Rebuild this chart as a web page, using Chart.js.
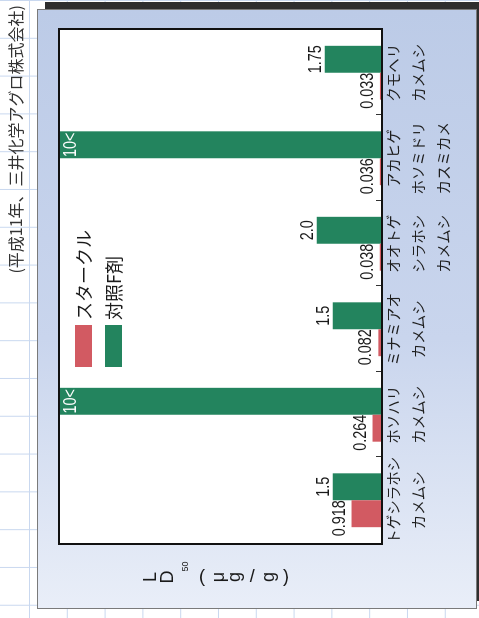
<!DOCTYPE html>
<html lang="ja">
<head>
<meta charset="utf-8">
<script src="https://cdn.jsdelivr.net/npm/chart.js@4.4.0/dist/chart.umd.min.js"></script>
<style>
    html, body { margin: 0; padding: 0; width: 479px; height: 618px; overflow: hidden; background: #ffffff; }
    .paper {
        position: absolute; left: 0; top: 0; width: 479px; height: 618px;
        background-image:
            linear-gradient(to right, #c9d8ef 1px, transparent 1px),
            linear-gradient(to bottom, #c9d8ef 1px, transparent 1px);
        background-size: 37.8px 37.8px, 37.8px 37.8px;
        background-position: 29px 0, 0 0;
    }
    .shadow { position: absolute; left: 45px; top: 2px; width: 440px; height: 599px; background: #2e2e2e; }
    .panel {
        position: absolute; left: 37px; top: 9px; width: 440px; height: 600px;
        box-sizing: border-box; border: 1px solid #7a7a7a;
        background: linear-gradient(to bottom, #bccbe7 0%, #c9d5ed 55%, #e9eef8 100%);
    }
    /* the chart is laid out upright and turned a quarter turn */
    .stage {
        position: absolute; left: 0; top: 0; width: 618px; height: 479px;
        transform-origin: 0 0; transform: translate(0, 618px) rotate(-90deg);
    }
    canvas { display: block; }
</style>
</head>
<body>
<div class="paper"></div>
<div class="shadow"></div>
<div class="panel"></div>
<div class="stage"><canvas id="ld50Chart" width="618" height="479"></canvas></div>

<script>
// LD50 of each stink bug species
const categories = [
    ['トゲシラホシ', 'カメムシ'],
    ['ホソハリ', 'カメムシ'],
    ['ミナミアオ', 'カメムシ'],
    ['オオトゲ', 'シラホシ', 'カメムシ'],
    ['アカヒゲ', 'ホソミドリ', 'カスミカメ'],
    ['クモヘリ', 'カメムシ']
];
const seriesNames = ['スタークル', '対照F剤'];
const starkleValues = [0.918, 0.264, 0.082, 0.038, 0.036, 0.033];
const controlValues = [1.5, 10, 1.5, 2.0, 10, 1.75];
const starkleLabels = ['0.918', '0.264', '0.082', '0.038', '0.036', '0.033'];
const controlLabels = ['1.5', '10<', '1.5', '2.0', '10<', '1.75'];
const yTitleGlyphs = ['L', 'D', '50', '(', 'μ', 'g', '/', 'g', ')'];
const sourceNote = '(平成11年、三井化学アグロ株式会社)';

const JP_FONT = '"Noto Sans CJK JP", "Noto Sans", sans-serif';
const NUM_FONT = '"Liberation Sans", Arial, sans-serif';

// condensed numerals: squeeze the text horizontally
function narrowText(ctx, text, x, y, squeeze) {
    ctx.save();
    ctx.translate(x, y);
    ctx.scale(squeeze, 1);
    ctx.fillText(text, 0, 0);
    ctx.restore();
}

const decorations = {
    id: 'decorations',
    beforeDatasetsDraw(chart) {
        const { ctx, chartArea: a } = chart;
        ctx.save();
        ctx.fillStyle = '#ffffff';
        ctx.fillRect(a.left, a.top, a.width, a.height);
        ctx.restore();
    },
    afterDatasetsDraw(chart) {
        const { ctx, chartArea: a } = chart;
        const xScale = chart.scales.x;
        ctx.save();

        // frame
        ctx.strokeStyle = '#111111';
        ctx.lineWidth = 2;
        ctx.strokeRect(a.left - 1, a.top - 1, a.width + 2, a.height + 2);

        // small marks between categories
        ctx.lineWidth = 1;
        ctx.strokeStyle = '#333333';
        for (let i = 0; i < categories.length - 1; i++) {
            const x = Math.round((xScale.getPixelForTick(i) + xScale.getPixelForTick(i + 1)) / 2) + 0.5;
            ctx.beginPath();
            ctx.moveTo(x, a.bottom);
            ctx.lineTo(x, a.bottom - 5);
            ctx.stroke();
        }

        // value labels
        const valueLabels = [starkleLabels, controlLabels];
        ctx.font = '18px ' + NUM_FONT;
        chart.data.datasets.forEach((ds, di) => {
            chart.getDatasetMeta(di).data.forEach((bar, i) => {
                const text = valueLabels[di][i];
                ctx.textBaseline = 'alphabetic';
                if (text.endsWith('<')) {
                    ctx.fillStyle = '#ffffff';
                    ctx.textAlign = 'center';
                    narrowText(ctx, text, bar.x, bar.y + 16, 0.8);
                } else if (di === 0) {
                    ctx.fillStyle = '#1a1a1a';
                    ctx.textAlign = 'right';
                    narrowText(ctx, text, bar.x + bar.width / 2, bar.y - 7, 0.8);
                } else {
                    ctx.fillStyle = '#1a1a1a';
                    ctx.textAlign = 'center';
                    narrowText(ctx, text, bar.x, bar.y - 4, 0.8);
                }
            });
        });
        ctx.restore();
    },
    afterDraw(chart) {
        const { ctx, chartArea: a } = chart;
        ctx.save();

        // legend inside the plot
        ctx.font = '18px ' + JP_FONT;
        ctx.textAlign = 'left';
        ctx.textBaseline = 'middle';
        chart.data.datasets.forEach((ds, i) => {
            const y = a.top + 15 + i * 30;
            ctx.fillStyle = ds.backgroundColor;
            ctx.fillRect(a.left + 176, y, 42, 17);
            ctx.fillStyle = '#1a1a1a';
            ctx.fillText(ds.label, a.left + 223, y + 9);
        });

        // source note
        ctx.font = '16px ' + JP_FONT;
        ctx.fillStyle = '#333333';
        ctx.textAlign = 'right';
        ctx.fillText(sourceNote, chart.width - 5, 15.5);

        // vertical axis title, one glyph per row
        ctx.fillStyle = '#1a1a1a';
        ctx.textAlign = 'center';
        yTitleGlyphs.forEach((g, i) => {
            const y = 151.5 + i * 16.8;
            if (g === '50') {
                ctx.font = '9px ' + NUM_FONT;
                ctx.fillText(g, 51.5, y);
            } else if ('(/)'.includes(g)) {
                ctx.font = '18px ' + NUM_FONT;
                ctx.save();
                ctx.translate(41, y);
                ctx.rotate(Math.PI / 2);
                ctx.fillText(g, 0, 0);
                ctx.restore();
            } else {
                ctx.font = '18px ' + NUM_FONT;
                ctx.fillText(g, 41, y);
            }
        });
        ctx.restore();
    }
};

const ctx = document.getElementById('ld50Chart').getContext('2d');
new Chart(ctx, {
    type: 'bar',
    data: {
        labels: categories,
        datasets: [{
            label: seriesNames[0],
            data: starkleValues,
            backgroundColor: '#d25a62'
        }, {
            label: seriesNames[1],
            data: controlValues,
            backgroundColor: '#23845e'
        }]
    },
    options: {
        responsive: false,
        animation: false,
        layout: {
            padding: { left: 75, right: 30, top: 60, bottom: 0 }
        },
        datasets: {
            bar: { categoryPercentage: 0.63, barPercentage: 1.0, borderWidth: 0 }
        },
        scales: {
            x: {
                grid: { display: false, drawTicks: false },
                border: { display: false },
                ticks: {
                    color: '#1e1e1e',
                    padding: 0,
                    maxRotation: 0,
                    autoSkip: false,
                    font: { family: JP_FONT, size: 14.5, lineHeight: '25px' }
                },
                afterFit(scale) { scale.height = 98; }
            },
            y: {
                display: false,
                min: 0,
                max: 10
            }
        },
        plugins: {
            legend: { display: false },
            tooltip: { enabled: false }
        }
    },
    plugins: [decorations]
});
</script>
</body>
</html>
